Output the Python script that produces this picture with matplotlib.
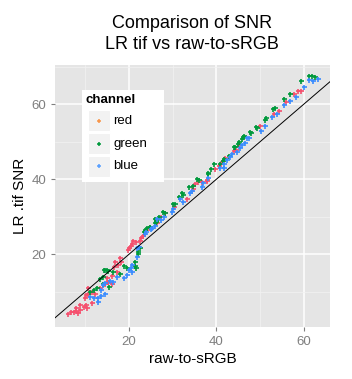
import matplotlib
matplotlib.use('Agg')
import matplotlib.pyplot as plt
from matplotlib.patches import Rectangle
from matplotlib.lines import Line2D

plt.rcParams['font.family'] = ['Liberation Sans', 'DejaVu Sans']

channels = ['red', 'green', 'blue']
colors = {'red': '#F5506E', 'green': '#00993C', 'blue': '#3A8CFF'}
key_colors = {'red': '#F8964A', 'green': '#00993C', 'blue': '#5AA0FF'}

red_x = [6.1, 6.7, 7.3, 7.8, 8.4, 8.8, 7.9, 8.8, 10.1, 10.4, 9.6, 9.9, 10.1, 10.7, 10.7, 11.5,
         11.6, 12.2, 13.4, 15.1, 15.0, 15.3, 16.2, 14.5, 16.0, 16.8, 16.6, 17.3, 17.9, 18.2, 17.5,
         19.8, 20.1, 20.4, 20.7, 21.0, 21.6, 22.5, 23.1, 22.8, 24.5, 26.5, 27.4, 28.3, 30.4, 33.2,
         34.7, 35.2, 35.9, 36.7, 37.8, 37.8, 39.7, 40.6, 41.2, 42.0, 44.1, 44.6, 45.1, 50.1, 53.2,
         54.4, 55.9, 57.9, 58.8, 59.4]
red_y = [4.0, 4.5, 4.7, 4.9, 4.3, 5.1, 5.8, 6.5, 6.5, 5.6, 5.9, 8.3, 9.1, 9.3, 10.9, 10.0,
         6.9, 9.3, 10.9, 12.7, 13.6, 12.7, 14.2, 12.0, 12.0, 18.0, 16.7, 15.4, 18.9, 18.0, 17.1,
         21.2, 21.8, 22.3, 22.8, 23.5, 23.4, 23.5, 25.0, 24.3, 27.0, 28.3, 30.0, 30.9, 32.7, 34.7,
         37.3, 38.7, 39.4, 39.4, 39.5, 39.8, 42.7, 43.6, 44.6, 45.8, 47.5, 47.9, 49.1, 54.1, 57.5,
         58.2, 60.7, 62.8, 63.5, 63.5]

green_x = [12.0, 12.6, 11.0, 13.4, 14.1, 14.5, 15.1, 14.3, 14.9, 15.4, 14.0, 16.3, 17.9, 18.9,
           19.5, 21.4, 21.6, 21.4, 22.5, 22.1, 22.0, 23.4, 23.7, 24.2, 24.7, 24.8, 25.9, 26.2,
           26.0, 26.3, 26.9, 27.9, 28.2, 30.0, 30.6, 31.5, 32.1, 32.3, 33.7, 34.7, 35.5, 36.0,
           38.2, 38.2, 38.8, 39.5, 40.8, 41.5, 41.8, 42.9, 44.1, 44.4, 44.9, 45.3, 45.8, 46.2,
           46.3, 47.8, 47.9, 49.0, 49.3, 51.1, 51.5, 52.9, 53.5, 55.4, 56.8, 59.5, 61.3, 61.9, 62.7]
green_y = [10.5, 10.9, 10.0, 13.4, 14.0, 15.8, 15.5, 15.8, 15.8, 11.4, 12.0, 15.2, 14.7, 17.0,
           16.3, 17.0, 16.3, 18.0, 21.6, 20.7, 20.0, 25.9, 26.5, 26.9, 27.4, 27.4, 28.3, 29.0,
           29.4, 28.7, 29.9, 31.4, 31.1, 33.4, 33.3, 35.2, 36.3, 35.9, 37.9, 38.2, 40.1, 39.8,
           41.3, 41.8, 42.7, 44.2, 44.1, 45.0, 45.3, 46.2, 48.5, 48.7, 49.3, 49.9, 50.7, 51.4,
           51.5, 52.5, 52.4, 54.0, 53.6, 55.8, 56.3, 58.7, 58.9, 61.5, 62.8, 66.1, 67.5, 67.5, 67.2]

blue_x = [11.1, 12.0, 13.0, 13.7, 13.0, 14.1, 14.5, 13.7, 15.6, 14.5, 16.4, 17.2, 18.9, 19.5,
          19.9, 20.4, 20.7, 20.8, 21.8, 21.9, 22.4, 23.7, 23.9, 25.2, 25.1, 25.9, 26.5, 27.4,
          28.0, 29.8, 30.0, 31.8, 32.4, 34.0, 34.4, 36.7, 37.0, 38.0, 40.9, 41.7, 41.8, 42.4,
          43.2, 43.5, 44.7, 45.4, 45.8, 46.6, 47.0, 47.5, 50.3, 51.2, 52.8, 54.0, 55.4, 57.0,
          58.3, 60.2, 61.3, 62.2, 63.4]
blue_y = [8.7, 8.4, 8.4, 9.0, 7.4, 11.8, 9.3, 10.5, 12.9, 12.3, 12.7, 14.0, 13.6, 14.5,
          15.8, 16.3, 15.2, 17.1, 19.4, 21.6, 22.0, 25.3, 26.0, 27.1, 26.8, 27.5, 29.4, 29.1,
          30.0, 31.3, 32.0, 34.7, 34.0, 36.3, 37.0, 38.0, 38.9, 40.4, 42.9, 43.1, 44.0, 45.2,
          46.0, 46.7, 47.2, 48.3, 49.1, 49.7, 50.9, 50.9, 52.8, 54.1, 56.5, 57.3, 59.8, 60.8,
          62.0, 64.5, 66.4, 66.3, 66.7]

data = {'red': (red_x, red_y), 'green': (green_x, green_y), 'blue': (blue_x, blue_y)}

W, H = 352, 379
fig = plt.figure(figsize=(W / 100, H / 100), dpi=100)
ax = fig.add_axes([55 / W, 1 - 327 / H, 275 / W, 262 / H])
ax.set_facecolor('#E5E5E5')
for s in ax.spines.values():
    s.set_visible(False)

ax.set_xticks([20, 40, 60])
ax.set_yticks([20, 40, 60])
ax.set_xticks([10, 30, 50], minor=True)
ax.set_yticks([10, 30, 50, 70], minor=True)
ax.grid(which='major', color='white', lw=1.1)
ax.grid(which='minor', color='#F2F2F2', lw=0.5)
ax.set_axisbelow(True)
ax.tick_params(which='major', colors='#7F7F7F', labelsize=9.5, length=3, width=0.8)
ax.tick_params(which='minor', length=0)

for ch in channels:
    xs, ys = data[ch]
    ax.plot(xs, ys, ls='none', marker='+', ms=3.6, mew=1.2, color=colors[ch], zorder=3)

ax.axline((0, 0), slope=1, color='black', lw=0.7, zorder=4)
ax.set_xlim(3.05, 66.05)
ax.set_ylim(0.6, 70.5)

ax.set_xlabel('raw-to-sRGB', fontsize=11, labelpad=3)
ax.set_ylabel('LR .tif SNR', fontsize=11, labelpad=3)
fig.text(192 / W, 1 - 15 / H, 'Comparison of SNR\nLR tif vs raw-to-sRGB',
         ha='center', va='top', fontsize=13, linespacing=1.3)

# legend drawn by hand (ggplot style boxes)
def fx(x):
    return x / W

def fy(y):
    return 1 - y / H

fig.add_artist(Rectangle((fx(82), fy(182)), 82 / W, 92 / H, transform=fig.transFigure,
                         facecolor='white', edgecolor='none'))
fig.text(fx(86), fy(100), 'channel', fontsize=9.5, fontweight='bold', va='center', ha='left')
for i, ch in enumerate(channels):
    top = 110 + i * 23
    fig.add_artist(Rectangle((fx(88), fy(top + 21)), 22 / W, 21 / H, transform=fig.transFigure,
                             facecolor='#F2F2F2', edgecolor='white', lw=0.8))
    fig.add_artist(Line2D([fx(99)], [fy(top + 10.5)], transform=fig.transFigure, ls='none',
                          marker='+', ms=3, mew=1.1, color=key_colors[ch]))
    fig.text(fx(113), fy(top + 10.5), ch, fontsize=9.5, va='center', ha='left')

fig.savefig('out.png', dpi=100)
